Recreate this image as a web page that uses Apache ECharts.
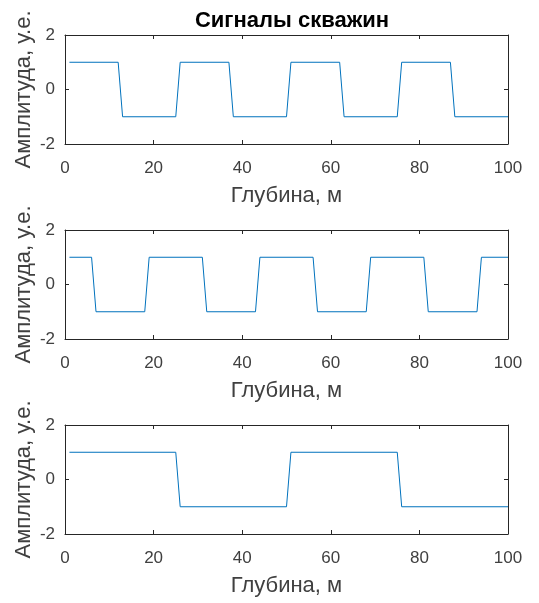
<!DOCTYPE html>
<html lang="ru">

<head>
  <meta charset="UTF-8">
  <title>Сигналы скважин</title>
  <style>
    html, body {
      margin: 0;
      padding: 0;
      background: #fff;
    }

    #chart {
      width: 539px;
      height: 603px;
    }
  </style>
</head>

<body>
  <div id="chart"></div>

  <script src="https://cdn.jsdelivr.net/npm/echarts@6/dist/echarts.min.js"></script>
  <script>
    // corner points of each well signal: [depth, amplitude]
    const well1 = [
      [1, 1], [12, 1], [13, -1], [25, -1], [26, 1], [37, 1], [38, -1], [50, -1],
      [51, 1], [62, 1], [63, -1], [75, -1], [76, 1], [87, 1], [88, -1], [100, -1]
    ];
    const well2 = [
      [1, 1], [6, 1], [7, -1], [18, -1], [19, 1], [31, 1], [32, -1], [43, -1],
      [44, 1], [56, 1], [57, -1], [68, -1], [69, 1], [81, 1], [82, -1], [93, -1],
      [94, 1], [100, 1]
    ];
    const well3 = [
      [1, 1], [25, 1], [26, -1], [50, -1], [51, 1], [75, 1], [76, -1], [100, -1]
    ];
    const signals = [well1, well2, well3];

    const chartTitle = 'Сигналы скважин';
    const xName = 'Глубина, м';
    const yName = 'Амплитуда, у.е.';

    const font = 'Liberation Sans, Arial, sans-serif';
    const axisColor = '#262626';
    const labelColor = '#404040';
    const lineColor = '#0072BD';

    const tops = [35, 230, 425];
    const plotH = 109;

    const chart = echarts.init(document.getElementById('chart'), null, { renderer: 'canvas' });

    const grid = [];
    const xAxis = [];
    const yAxis = [];
    const series = [];

    tops.forEach((top, i) => {
      grid.push({
        left: 65,
        top: top,
        width: 443,
        height: plotH,
        show: false,
      });
      // bottom axis with labels, top axis only for inner ticks
      ['bottom', 'top'].forEach(pos => {
        xAxis.push({
          gridIndex: i,
          type: 'value',
          position: pos,
          min: 0,
          max: 100,
          interval: 20,
          name: pos === 'bottom' ? xName : '',
          nameLocation: 'middle',
          nameGap: 41,
          nameMoveOverlap: false,
          nameTextStyle: { fontFamily: font, fontSize: 22, color: labelColor },
          axisLine: { show: true, onZero: false, lineStyle: { color: axisColor } },
          axisTick: { show: true, inside: true, length: 4, lineStyle: { color: axisColor } },
          axisLabel: {
            show: pos === 'bottom',
            fontFamily: font, fontSize: 17, color: labelColor, margin: 16,
          },
          splitLine: { show: false },
        });
      });
      ['left', 'right'].forEach(pos => {
        yAxis.push({
          gridIndex: i,
          type: 'value',
          position: pos,
          min: -2,
          max: 2,
          interval: 2,
          name: pos === 'left' ? yName : '',
          nameLocation: 'middle',
          nameRotate: 90,
          nameGap: 30,
          nameMoveOverlap: false,
          nameTextStyle: { fontFamily: font, fontSize: 22, color: labelColor },
          axisLine: { show: true, onZero: false, lineStyle: { color: axisColor } },
          axisTick: { show: true, inside: true, length: 4, lineStyle: { color: axisColor } },
          axisLabel: {
            show: pos === 'left',
            fontFamily: font, fontSize: 17, color: labelColor, margin: 10,
            padding: [7, 0, 0, 0],
          },
          splitLine: { show: false },
        });
      });
      series.push({
        type: 'line',
        xAxisIndex: i * 2,
        yAxisIndex: i * 2,
        data: signals[i],
        showSymbol: false,
        symbol: 'none',
        animation: false,
        lineStyle: { color: lineColor, width: 1 },
      });
    });

    chart.setOption({
      animation: false,
      title: {
        text: chartTitle,
        left: 287,
        textAlign: 'center',
        top: 5,
        textStyle: { fontFamily: font, fontSize: 22, fontWeight: 'bold', color: '#000' },
      },
      grid,
      xAxis,
      yAxis,
      series,
    });
  </script>
</body>

</html>
